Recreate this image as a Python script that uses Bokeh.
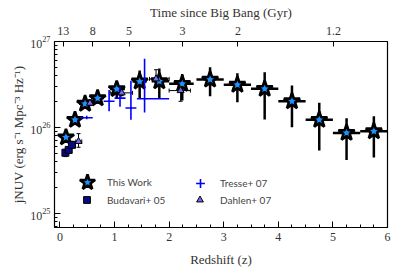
from bokeh.plotting import figure
from bokeh.models import (Range1d, LinearAxis, FixedTicker, LogTicker, ColumnDataSource,
                          Whisker, TeeHead, Legend, LegendItem, SingleIntervalTicker)
from bokeh.embed import file_html
from bokeh.resources import INLINE

# This Work
z_tw = [0.11, 0.275, 0.46, 0.69, 1.04, 1.46, 1.82, 2.24, 2.75, 3.25, 3.75, 4.25, 4.75, 5.25, 5.75]
zlo_tw = [0.06, 0.20, 0.35, 0.57, 0.92, 1.33, 1.68, 2.00, 2.50, 3.00, 3.50, 4.00, 4.50, 5.00, 5.50]
zhi_tw = [0.16, 0.35, 0.57, 0.80, 1.19, 1.59, 2.00, 2.45, 3.00, 3.50, 4.00, 4.50, 5.00, 5.50, 6.00]
j_tw = [7.7e25, 1.23e26, 1.89e26, 2.19e26, 2.8e26, 3.43e26, 3.45e26, 3.22e26, 3.61e26, 3.14e26,
        2.82e26, 2.02e26, 1.23e26, 8.67e25, 9.06e25]
jlo_tw = [6.9e25, 1.12e26, 1.75e26, 2.05e26, 2.16e26, 2.19e26, 2.19e26, 2.06e26, 2.31e26, 1.97e26,
          1.24e26, 1.01e26, 5.4e25, 4.2e25, 4.5e25]
jhi_tw = [8.6e25, 1.36e26, 2.05e26, 2.35e26, 3.47e26, 4.6e26, 4.85e26, 4.2e26, 5.02e26, 4.28e26,
          4.40e26, 3.08e26, 1.94e26, 1.28e26, 1.35e26]

# Budavari+ 05
z_b = [0.10, 0.16, 0.22]
zlo_b = [0.07, 0.12, 0.18]
zhi_b = [0.13, 0.20, 0.26]
j_b = [5.1e25, 5.5e25, 6.3e25]
jlo_b = [4.6e25, 5.0e25, 5.8e25]
jhi_b = [5.6e25, 6.0e25, 6.9e25]

# Tresse+ 07
z_t = [0.49, 0.90, 1.10, 1.30, 1.55]
zlo_t = [0.37, 0.80, 1.00, 1.20, 1.41]
zhi_t = [0.60, 1.00, 1.20, 1.40, 2.00]
j_t = [1.3e26, 2.02e26, 2.2e26, 1.69e26, 2.16e26]
jlo_t = [1.25e26, 1.55e26, 1.74e26, 1.23e26, 1.5e26]
jhi_t = [1.37e26, 2.74e26, 2.95e26, 3.5e26, 6.3e26]

# Dahlen+ 07
z_d = [0.34, 0.55, 1.13, 1.76, 2.21]
zlo_d = [0.29, 0.50, 0.92, 1.64, 2.00]
zhi_d = [0.40, 0.62, 1.33, 2.00, 2.39]
j_d = [6.9e25, 1.92e26, 2.53e26, 3.68e26, 2.69e26]
jlo_d = [5.9e25, 1.8e26, 2.35e26, 3.0e26, 2.02e26]
jhi_d = [8.5e25, 2.1e26, 2.75e26, 4.7e26, 3.0e26]

# top axis: time since Big Bang
time_tick_z = [0.06, 0.60, 1.266, 2.245, 3.26, 5.01]
time_tick_labels = ["13", "8", "5", "3", "2", "1.2"]

SERIF = "'Liberation Serif'"
SANS = "Lato"

p = figure(frame_width=333, frame_height=186, output_backend="svg", toolbar_location=None,
           x_range=Range1d(-0.1, 6.0), y_range=Range1d(6.9e24, 1e27), y_axis_type="log",
           min_border_left=54, min_border_right=6, min_border_top=41, min_border_bottom=44)
p.background_fill_color = "white"
p.border_fill_color = "white"
p.outline_line_color = "black"
p.outline_line_width = 1.2
p.xgrid.visible = False
p.ygrid.visible = False

# This Work
src_tw = ColumnDataSource(dict(z=z_tw, zlo=zlo_tw, zhi=zhi_tw, j=j_tw, jlo=jlo_tw, jhi=jhi_tw))
p.segment(x0="zlo", x1="zhi", y0="j", y1="j", source=src_tw, line_color="black", line_width=2.5)
p.segment(x0="z", x1="z", y0="jlo", y1="jhi", source=src_tw, line_color="black", line_width=2.5)
r_tw = p.scatter(x="z", y="j", source=src_tw, marker="star", size=17, fill_color="#1e90ff",
                 line_color="black", line_width=2.6)

# Tresse
src_t = ColumnDataSource(dict(z=z_t, zlo=zlo_t, zhi=zhi_t, j=j_t, jlo=jlo_t, jhi=jhi_t))
p.segment(x0="zlo", x1="zhi", y0="j", y1="j", source=src_t, line_color="#0000ff", line_width=1.6)
p.segment(x0="z", x1="z", y0="jlo", y1="jhi", source=src_t, line_color="#0000ff", line_width=1.6)
r_t = p.scatter(x="z", y="j", source=src_t, marker="cross", size=1, line_color="#0000ff",
                line_width=1.6)

# Budavari
src_b = ColumnDataSource(dict(z=z_b, zlo=zlo_b, zhi=zhi_b, j=j_b, jlo=jlo_b, jhi=jhi_b))
for dim, lo, hi in (("width", "zlo", "zhi"), ("height", "jlo", "jhi")):
    w = Whisker(source=src_b, base=("j" if dim == "width" else "z"), lower=lo, upper=hi,
                dimension=dim, line_color="black", line_width=1,
                upper_head=TeeHead(size=4, line_color="black", line_width=1),
                lower_head=TeeHead(size=4, line_color="black", line_width=1))
    p.add_layout(w)
r_b = p.scatter(x="z", y="j", source=src_b, marker="square", size=7, fill_color="#0a0a80",
                line_color="black", line_width=1)

# Dahlen
src_d = ColumnDataSource(dict(z=z_d, zlo=zlo_d, zhi=zhi_d, j=j_d, jlo=jlo_d, jhi=jhi_d))
for dim, lo, hi in (("width", "zlo", "zhi"), ("height", "jlo", "jhi")):
    w = Whisker(source=src_d, base=("j" if dim == "width" else "z"), lower=lo, upper=hi,
                dimension=dim, line_color="black", line_width=1,
                upper_head=TeeHead(size=4, line_color="black", line_width=1),
                lower_head=TeeHead(size=4, line_color="black", line_width=1))
    p.add_layout(w)
r_d = p.scatter(x="z", y="j", source=src_d, marker="triangle", size=7, fill_color="#7b68ee",
                line_color="black", line_width=1)

# axes
xa = p.xaxis[0]
xa.ticker = SingleIntervalTicker(interval=1, num_minor_ticks=4)
xa.axis_label = "Redshift (z)"
ya = p.yaxis[0]
ya.ticker = LogTicker(mantissas=[1], num_minor_ticks=10, desired_num_ticks=3)
ya.axis_label = "jNUV (erg s\u207b\u00b9 Mpc\u207b\u00b3 Hz\u207b\u00b9)"
for ax in (xa, ya):
    ax.major_tick_in = 6
    ax.major_tick_out = 0
    ax.minor_tick_in = 3
    ax.minor_tick_out = 0
    ax.axis_line_color = "black"
    ax.major_tick_line_color = "black"
    ax.minor_tick_line_color = "black"
    ax.major_label_text_font = SERIF
    ax.major_label_text_font_size = "12px"
    ax.major_label_text_color = "#333333"
    ax.axis_label_text_font = SERIF
    ax.axis_label_text_font_size = "13px"
    ax.axis_label_text_font_style = "normal"
    ax.axis_label_text_color = "#333333"
xa.major_label_standoff = 5
ya.major_label_standoff = 4
xa.axis_label_standoff = 8
ya.axis_label_standoff = 1

top = LinearAxis(ticker=FixedTicker(ticks=time_tick_z),
                 major_label_overrides={z: lab for z, lab in zip(time_tick_z, time_tick_labels)},
                 axis_label="Time since Big Bang (Gyr)")
top.major_tick_in = 5
top.major_tick_out = 0
top.minor_tick_in = 0
top.minor_tick_out = 0
top.axis_line_color = "black"
top.major_label_text_font = SERIF
top.major_label_text_font_size = "12px"
top.major_label_text_color = "#333333"
top.axis_label_text_font = SERIF
top.axis_label_text_font_size = "13px"
top.axis_label_text_font_style = "normal"
top.axis_label_text_color = "#333333"
top.major_label_standoff = 7
top.axis_label_standoff = 4
p.add_layout(top, "above")

# legends: one per entry so that each glyph gets its own size
def make_legend(item, loc, box, standoff):
    return Legend(items=[item], location=loc, orientation="vertical",
                  glyph_width=box, glyph_height=box, label_height=box, spacing=0,
                  padding=0, margin=0, label_standoff=standoff,
                  label_text_font=SANS, label_text_font_size="10px",
                  border_line_color=None, background_fill_alpha=0)

p.add_layout(make_legend(LegendItem(label="This Work", renderers=[r_tw]), (13, 25), 40, 0))
p.add_layout(make_legend(LegendItem(label="Budavari+ 05", renderers=[r_b]), (24, 19), 17, 12))
p.add_layout(make_legend(LegendItem(label="Tresse+ 07", renderers=[r_t]), (135, 33), 22, 9))
p.add_layout(make_legend(LegendItem(label="Dahlen+ 07", renderers=[r_d]), (137, 19), 17, 12))

open("out.html", "w").write(file_html(p, INLINE))
